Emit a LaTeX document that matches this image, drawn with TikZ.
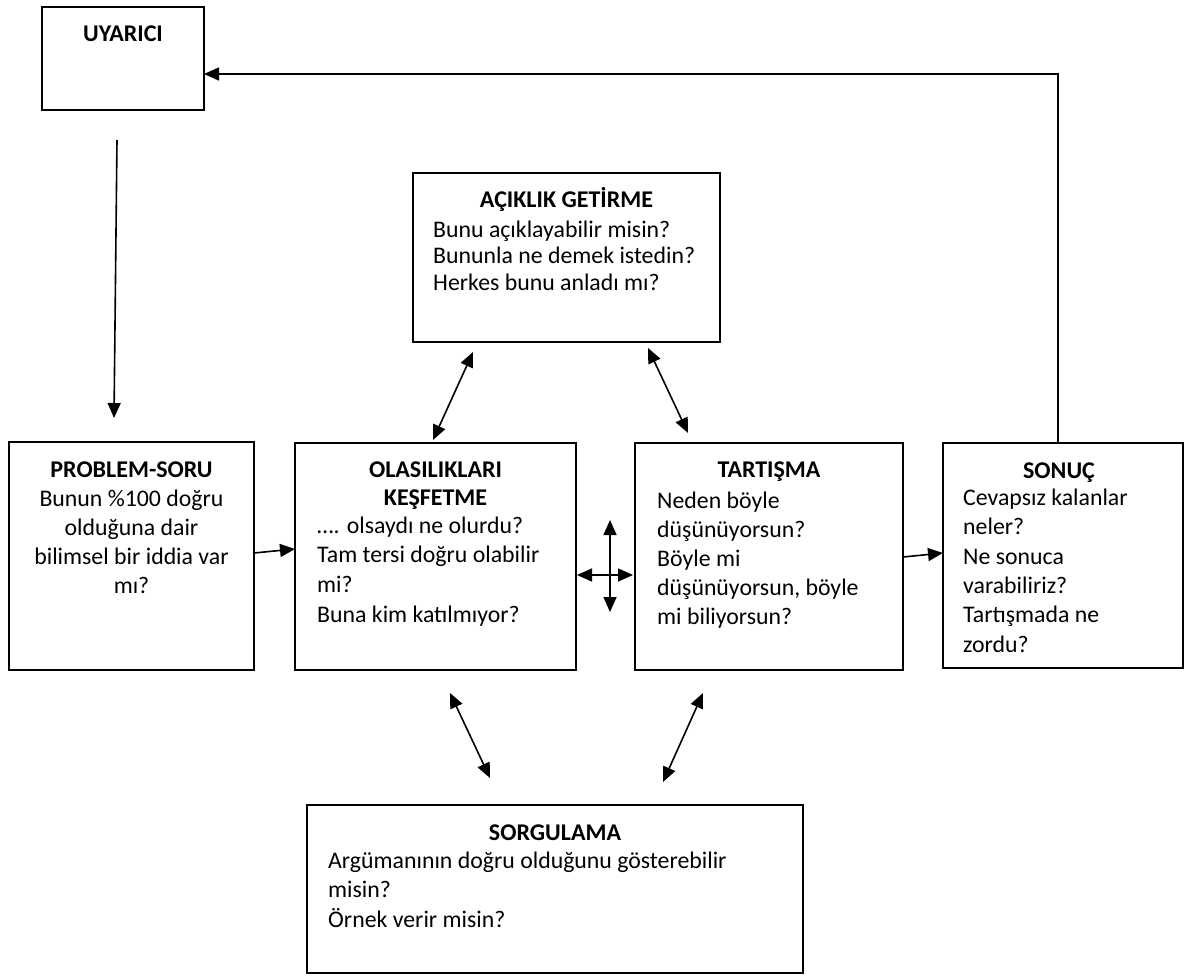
\documentclass[tikz,border=0pt]{standalone}
\usepackage{fontspec}
\setmainfont{Carlito}
\usetikzlibrary{arrows.meta}
\begin{document}
\begin{tikzpicture}[x=1pt,y=-1pt,
  box/.style={draw=black,line width=1.9pt,inner sep=0pt,outer sep=0pt,anchor=north west},
  ttl/.style={inner sep=0pt,anchor=base,font=\fontsize{24}{28}\selectfont\bfseries},
  body/.style={inner sep=0pt,anchor=north west,align=left,font=\fontsize{23.8}{#1}\selectfont},
  body/.default=29.5,
  arr/.style={line width=1.6pt,-{Triangle[length=15pt,width=13pt]}},
  darr/.style={line width=1.6pt,{Triangle[length=15pt,width=13pt]}-{Triangle[length=15pt,width=13pt]}}
]
\useasboundingbox (0,0) rectangle (1185,976);
\fill[white] (0,0) rectangle (1185,976);

% boxes
\node[box,minimum width=162pt,minimum height=103pt] (uyarici) at (42,7) {};
\node[box,minimum width=307pt,minimum height=169pt] (aciklik) at (413,173) {};
\node[box,minimum width=245pt,minimum height=228pt] (problem) at (9,442) {};
\node[box,minimum width=281pt,minimum height=227pt] (olas) at (295,443) {};
\node[box,minimum width=268pt,minimum height=227pt] (tart) at (635,443) {};
\node[box,minimum width=240pt,minimum height=225pt] (sonuc) at (943,443) {};
\node[box,minimum width=496pt,minimum height=168pt] (sorg) at (307,805) {};

% titles
\node[ttl] (tuyarici) at (123,42) {UYARICI};
\node[ttl] (taciklik) at (566.5,208) {AÇIKLIK GETİRME};
\node[ttl] (tproblem) at (131.5,477) {PROBLEM-SORU};
\node[ttl,align=center,anchor=north] (tolas) at (435.5,455) {\rule{0pt}{22pt}OLASILIKLARI\\KEŞFETME};
\node[ttl] (ttart) at (769,477) {TARTIŞMA};
\node[ttl] (tsonuc) at (1059,478) {SONUÇ};
\node[ttl] (tsorg) at (555,840) {SORGULAMA};

% question texts
\node[body=26.5] (baciklik) at (433,215) {\rule{0pt}{22pt}Bunu açıklayabilir misin?\\Bununla ne demek istedin?\\Herkes bunu anladı mı?};
\node[body=29,align=center,anchor=north] (bproblem) at (131.5,484) {\rule{0pt}{22pt}Bunun \%100 doğru\\olduğuna dair\\bilimsel bir iddia var\\mı?};
\node[body=29.6] (bolas) at (317,511) {\rule{0pt}{22pt}…. olsaydı ne olurdu?\\Tam tersi doğru olabilir\\mi?\\Buna kim katılmıyor?};
\node[body=29] (btart) at (657,486) {\rule{0pt}{22pt}Neden böyle\\düşünüyorsun?\\Böyle mi\\düşünüyorsun, böyle\\mi biliyorsun?};
\node[body=29.4] (bsonuc) at (963,483) {\rule{0pt}{22pt}Cevapsız kalanlar\\neler?\\Ne sonuca\\varabiliriz?\\Tartışmada ne\\zordu?};
\node[body=29.5] (bsorg) at (328,846) {\rule{0pt}{22pt}Argümanının doğru olduğunu gösterebilir\\misin?\\Örnek verir misin?};

% connector end points
\coordinate (u0) at (117,140);
\coordinate (u1) at (114,418);
\coordinate (fb0) at ([xshift=-5pt]sonuc.north);
\coordinate (fb1) at (uyarici.east |- 0,74);
\coordinate (po0) at (254,553);
\coordinate (po1) at (295,549);
\coordinate (ts0) at (903,557);
\coordinate (ts1) at (943,553);
\coordinate (h0) at (577,575);
\coordinate (h1) at (633,575);
\coordinate (v0) at (610,520);
\coordinate (v1) at (610,612);
\coordinate (ao0) at (473,352);
\coordinate (ao1) at (433,440);
\coordinate (at0) at (648,348);
\coordinate (at1) at (688,433);
\coordinate (os0) at (450,693);
\coordinate (os1) at (490,778);
\coordinate (ss0) at (703,693);
\coordinate (ss1) at (663,782);

% connectors
\draw[arr] (u0) -- (u1);
\draw[arr] (fb0) |- (fb1);
\draw[arr] (po0) -- (po1);
\draw[arr] (ts0) -- (ts1);
\draw[darr] (h0) -- (h1);
\draw[darr] (v0) -- (v1);
\draw[darr] (ao0) -- (ao1);
\draw[darr] (at0) -- (at1);
\draw[darr] (os0) -- (os1);
\draw[darr] (ss0) -- (ss1);
\end{tikzpicture}
\end{document}
